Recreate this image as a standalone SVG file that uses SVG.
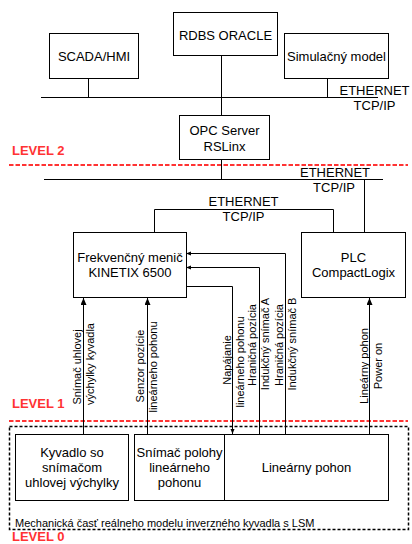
<svg xmlns="http://www.w3.org/2000/svg" width="412" height="544" viewBox="0 0 412 544">
  <style>
    .box { fill: #ffffff; stroke: #000000; stroke-width: 1; }
    .t { font-family: "Liberation Sans", Arial, sans-serif; font-size: 13px; fill: #000000; }
    .tm { text-anchor: middle; }
    .s { font-family: "Liberation Sans", Arial, sans-serif; font-size: 11px; fill: #000000; text-anchor: middle; }
    .lvl { font-family: "Liberation Sans", Arial, sans-serif; font-size: 13px; font-weight: bold; fill: #ff3333; }
    .wire { fill: none; stroke: #000000; stroke-width: 1; }
    .sep { stroke: #ff3333; stroke-width: 2; stroke-dasharray: 4.5 2; }
  </style>
  <defs>
    <marker id="arrowBig" markerUnits="userSpaceOnUse" markerWidth="8" markerHeight="7" refX="7" refY="3" orient="auto">
      <path d="M0,0 L7,3 L0,6 z" fill="#000000"/>
    </marker>
    <marker id="arrowSmall" markerUnits="userSpaceOnUse" markerWidth="6" markerHeight="5" refX="5" refY="2" orient="auto">
      <path d="M0,0 L5,2 L0,4 z" fill="#000000"/>
    </marker>
  </defs>

  <rect width="412" height="544" fill="#ffffff"/>

  <!-- level separators -->
  <g id="levels">
    <line class="sep" x1="9" y1="165" x2="408" y2="165"/>
    <line class="sep" x1="9" y1="421" x2="408" y2="421"/>
    <text class="lvl" x="12" y="155">LEVEL 2</text>
    <text class="lvl" x="12" y="408">LEVEL 1</text>
    <text class="lvl" x="12" y="541">LEVEL 0</text>
  </g>

  <!-- mechanical part frame -->
  <g id="mechanics">
    <rect x="9.5" y="426.5" width="399" height="103" fill="none" stroke="#000000" stroke-width="1.5" stroke-dasharray="3 2"/>
    <text class="s" x="15" y="527" style="text-anchor:start">Mechanická časť reálneho modelu inverzného kyvadla s LSM</text>
  </g>

  <!-- connectors -->
  <g id="connectors">
    <!-- upper Ethernet bus -->
    <line class="wire" x1="41" y1="97.5" x2="378" y2="97.5"/>
    <line class="wire" x1="88.5" y1="79" x2="88.5" y2="97.5"/>
    <line class="wire" x1="327.5" y1="79" x2="327.5" y2="97.5"/>
    <line class="wire" x1="221.5" y1="56" x2="221.5" y2="115"/>
    <text class="t tm" x="374.5" y="95">ETHERNET</text>
    <text class="t tm" x="374.5" y="110">TCP/IP</text>

    <!-- lower Ethernet bus -->
    <line class="wire" x1="44" y1="179.5" x2="383" y2="179.5"/>
    <line class="wire" x1="221.5" y1="160" x2="221.5" y2="179.5"/>
    <line class="wire" x1="364.5" y1="179.5" x2="364.5" y2="232"/>
    <text class="t tm" x="335" y="177">ETHERNET</text>
    <text class="t tm" x="334" y="192">TCP/IP</text>

    <!-- drive to PLC link -->
    <path class="wire" d="M154.5,232 V209.5 H333.5 V232"/>
    <text class="t tm" x="243.5" y="206">ETHERNET</text>
    <text class="t tm" x="243.5" y="221">TCP/IP</text>

    <!-- signals into the drive -->
    <line class="wire" x1="83.5" y1="434" x2="83.5" y2="298" marker-end="url(#arrowBig)"/>
    <line class="wire" x1="147.5" y1="434" x2="147.5" y2="298" marker-end="url(#arrowBig)"/>
    <path class="wire" d="M186,286.5 H232.5 V434" marker-end="url(#arrowSmall)"/>
    <path class="wire" d="M259.5,434 V267.5 H186" marker-end="url(#arrowSmall)"/>
    <path class="wire" d="M285.5,434 V253.5 H186" marker-end="url(#arrowSmall)"/>
    <line class="wire" x1="369.5" y1="434" x2="369.5" y2="298" marker-end="url(#arrowBig)"/>

    <!-- signal labels -->
    <g transform="translate(81,367) rotate(-90)"><text class="s" x="0" y="0">Snímač uhlovej</text></g>
    <g transform="translate(94,364) rotate(-90)"><text class="s" x="0" y="0">výchylky kyvadla</text></g>
    <g transform="translate(144,366) rotate(-90)"><text class="s" x="0" y="0">Senzor pozície</text></g>
    <g transform="translate(157,367) rotate(-90)"><text class="s" x="0" y="0">lineárneho pohonu</text></g>
    <g transform="translate(231,360) rotate(-90)"><text class="s" x="0" y="0">Napájanie</text></g>
    <g transform="translate(244,362) rotate(-90)"><text class="s" x="0" y="0">lineárneho pohonu</text></g>
    <g transform="translate(256,345) rotate(-90)"><text class="s" x="0" y="0">Hraničná pozícia</text></g>
    <g transform="translate(269,344) rotate(-90)"><text class="s" x="0" y="0">Indukčný snímač A</text></g>
    <g transform="translate(283,345) rotate(-90)"><text class="s" x="0" y="0">Hraničná pozícia</text></g>
    <g transform="translate(296,344) rotate(-90)"><text class="s" x="0" y="0">Indukčný snímač B</text></g>
    <g transform="translate(368,366) rotate(-90)"><text class="s" x="0" y="0">Lineárny pohon</text></g>
    <g transform="translate(382,366) rotate(-90)"><text class="s" x="0" y="0">Power on</text></g>
  </g>

  <!-- level 2 nodes -->
  <g id="scada">
    <rect class="box" x="49.5" y="33.5" width="89" height="45"/>
    <text class="t tm" x="94" y="61">SCADA/HMI</text>
  </g>
  <g id="rdbs">
    <rect class="box" x="173.5" y="12.5" width="104" height="43"/>
    <text class="t tm" x="225.5" y="40">RDBS ORACLE</text>
  </g>
  <g id="simulation">
    <rect class="box" x="284.5" y="33.5" width="104" height="45"/>
    <text class="t tm" x="336.5" y="61">Simulačný model</text>
  </g>
  <g id="opc">
    <rect class="box" x="179.5" y="115.5" width="90" height="44"/>
    <text class="t tm" x="224.5" y="135">OPC Server</text>
    <text class="t tm" x="224.5" y="151">RSLinx</text>
  </g>

  <!-- level 1 nodes -->
  <g id="drive">
    <rect class="box" x="73.5" y="232.5" width="113" height="65"/>
    <text class="t tm" x="130" y="262">Frekvenčný menič</text>
    <text class="t tm" x="130" y="277">KINETIX 6500</text>
  </g>
  <g id="plc">
    <rect class="box" x="301.5" y="232.5" width="104" height="65"/>
    <text class="t tm" x="353.5" y="262">PLC</text>
    <text class="t tm" x="353.5" y="277">CompactLogix</text>
  </g>

  <!-- level 0 nodes -->
  <g id="pendulum">
    <rect class="box" x="15.5" y="434.5" width="113" height="66"/>
    <text class="t tm" x="72" y="457">Kyvadlo so</text>
    <text class="t tm" x="72" y="472">snímačom</text>
    <text class="t tm" x="72" y="487">uhlovej výchylky</text>
  </g>
  <g id="position-sensor">
    <rect class="box" x="134.5" y="434.5" width="90" height="66"/>
    <text class="t tm" x="179.5" y="457">Snímač polohy</text>
    <text class="t tm" x="179.5" y="472">lineárneho</text>
    <text class="t tm" x="179.5" y="487">pohonu</text>
  </g>
  <g id="linear-drive">
    <rect class="box" x="224.5" y="434.5" width="164" height="66"/>
    <text class="t tm" x="306.5" y="472">Lineárny pohon</text>
  </g>
</svg>
